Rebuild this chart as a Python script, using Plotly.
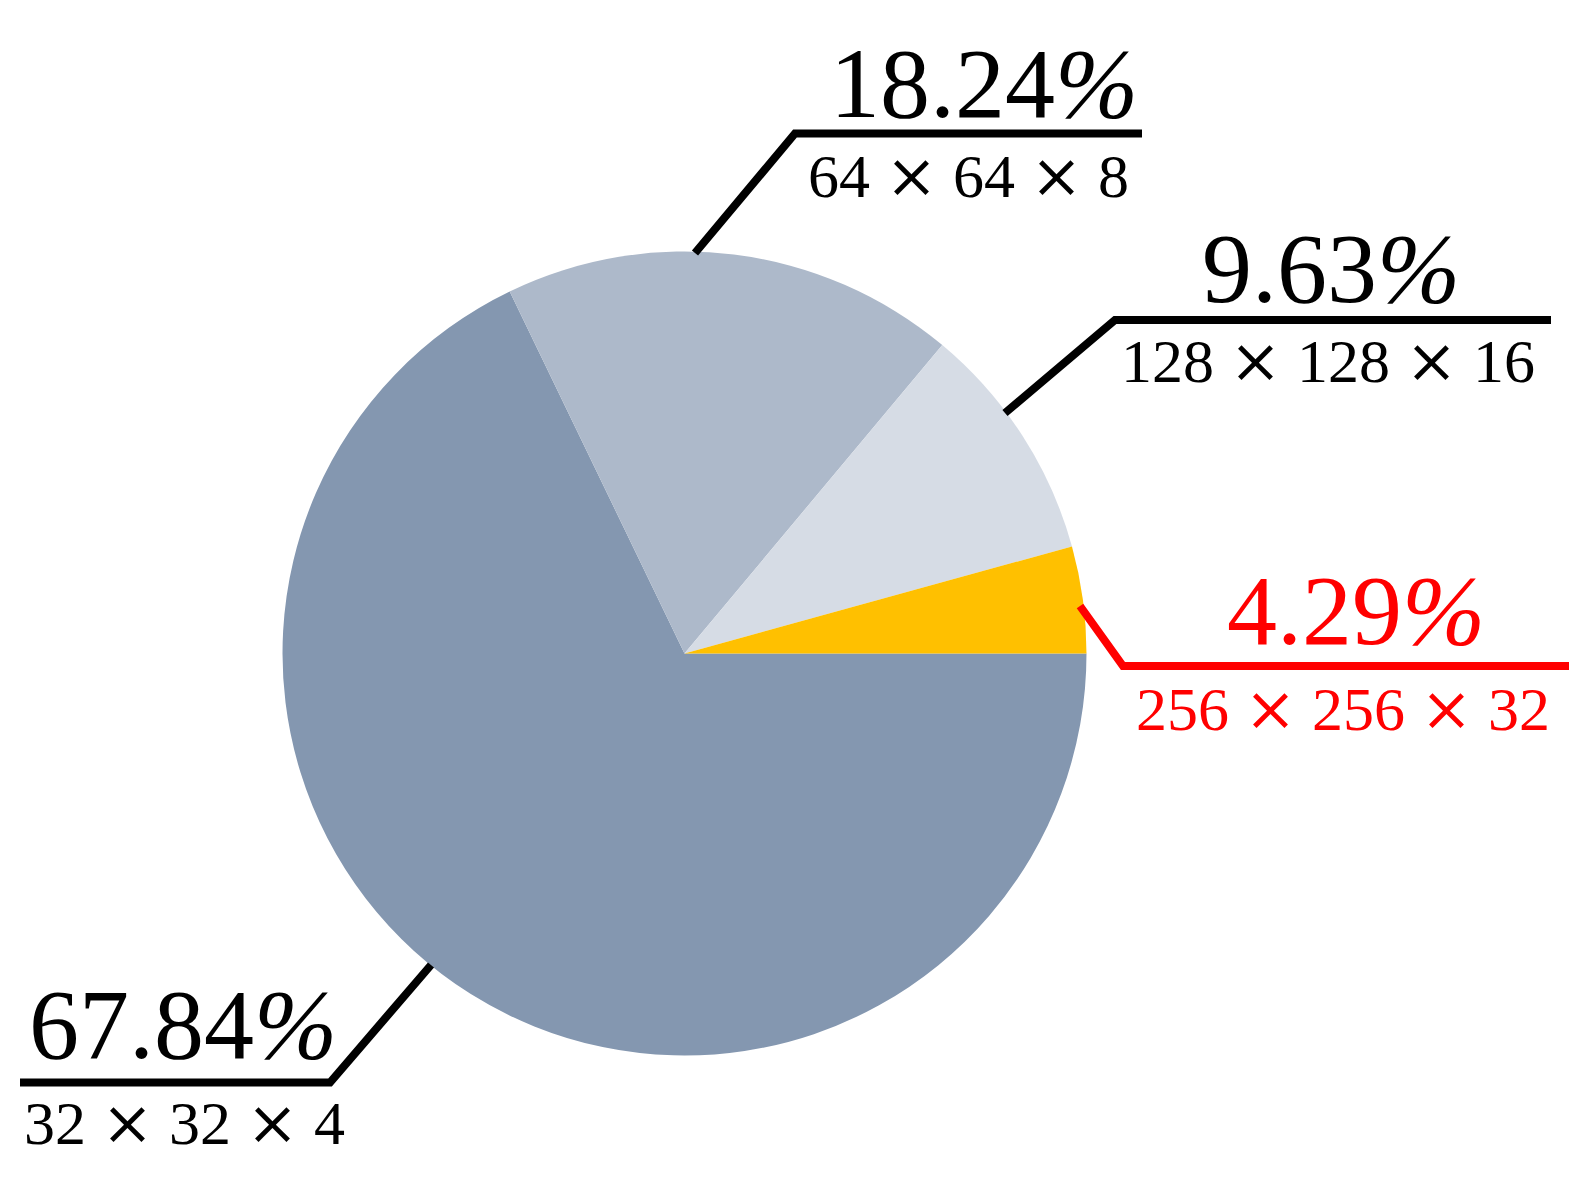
import plotly.graph_objects as go

# ── data (pie order: clockwise from 3 o'clock) ──────────────────
shares = [67.84, 18.24, 9.63, 4.29]
sizes = ["32 × 32 × 4", "64 × 64 × 8", "128 × 128 × 16", "256 × 256 × 32"]
slice_colors = ["#8497B0", "#ADB9CA", "#D6DCE5", "#FFC000"]
label_colors = ["#000000", "#000000", "#000000", "#FF0000"]

# ── geometry in page pixels (1579 x 1184) ───────────────────────
W, H = 1579, 1184
OFF = 8  # browser body margin
CX, CY, R = 684.5 - OFF, 653.5 - OFF, 402

# leader: start on pie edge, elbow, end of underline; text centres
leaders = [
    dict(start=(431, 965), elbow=(330, 1082.5), end=(20, 1082.5),
         main=(183, 1024), sub=(184, 1122)),
    dict(start=(695, 253), elbow=(795, 133.5), end=(1142, 133.5),
         main=(984, 83.5), sub=(968, 175)),
    dict(start=(1005, 413), elbow=(1115, 320), end=(1551, 320),
         main=(1331, 268), sub=(1328, 360)),
    dict(start=(1080, 606), elbow=(1123, 666), end=(1569, 666),
         main=(1356, 610), sub=(1343, 708)),
]

_SERIF = "Liberation Serif, Times New Roman, serif"


def _px(p):
    return p[0] - OFF, p[1] - OFF


fig = go.Figure()
fig.add_trace(go.Pie(
    values=shares,
    labels=sizes,
    sort=False,
    direction="clockwise",
    rotation=90,
    marker=dict(colors=slice_colors, line=dict(width=0)),
    textinfo="none",
    hoverinfo="skip",
    showlegend=False,
    domain=dict(x=[(CX - R) / W, (CX + R) / W],
                y=[(H - CY - R) / H, (H - CY + R) / H]),
))

shapes = []
annotations = []
for share, size, col, ld in zip(shares, sizes, label_colors, leaders):
    (x0, y0), (x1, y1), (x2, y2) = _px(ld["start"]), _px(ld["elbow"]), _px(ld["end"])
    shapes.append(dict(
        type="path", xref="x", yref="y",
        path=f"M {x0},{y0} L {x1},{y1} L {x2},{y2}",
        line=dict(color=col, width=8),
    ))
    mx, my = _px(ld["main"])
    sx, sy = _px(ld["sub"])
    annotations.append(dict(
        x=mx, y=my, xref="x", yref="y",
        text=f"{share:.2f}<i>%</i>", showarrow=False,
        xanchor="center", yanchor="middle",
        font=dict(family=_SERIF, size=100, color=col),
    ))
    sub_txt = size.replace(" × ", " <span style='font-family:DejaVu Serif'>×</span> ")
    annotations.append(dict(
        x=sx, y=sy, xref="x", yref="y",
        text=sub_txt, showarrow=False,
        xanchor="center", yanchor="middle",
        font=dict(family=_SERIF, size=62, color=col),
    ))

fig.update_layout(
    width=W, height=H,
    margin=dict(l=0, r=0, t=0, b=0),
    paper_bgcolor="#ffffff",
    plot_bgcolor="rgba(0,0,0,0)",
    xaxis=dict(range=[0, W], visible=False, fixedrange=True),
    yaxis=dict(range=[H, 0], visible=False, fixedrange=True),
    shapes=shapes,
    annotations=annotations,
)

fig.write_html("out.html")
